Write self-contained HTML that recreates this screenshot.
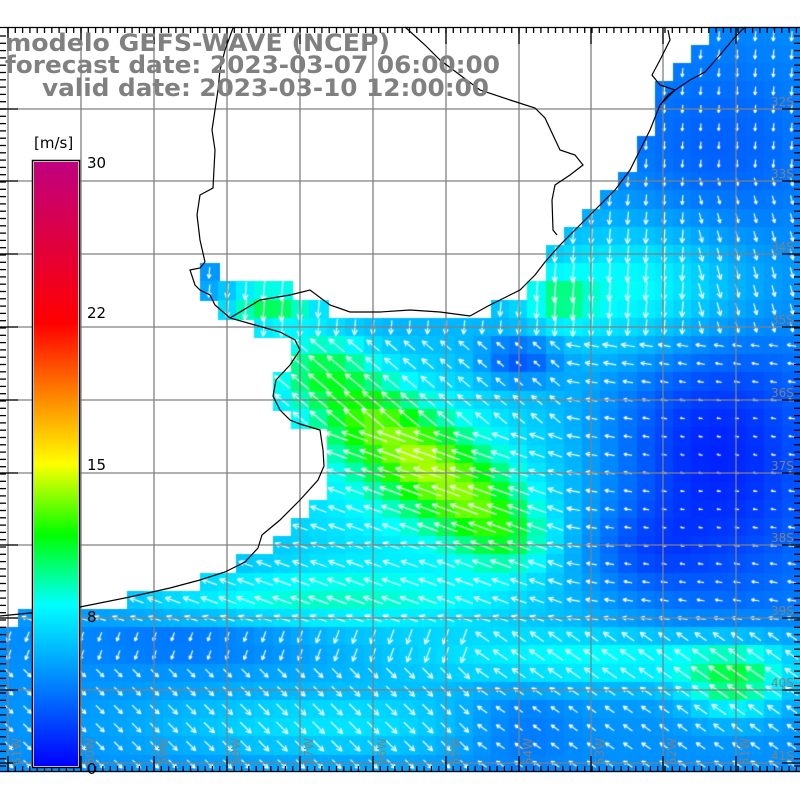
<!DOCTYPE html>
<html><head><meta charset="utf-8"><style>
html,body{margin:0;padding:0;background:#fff;width:800px;height:800px;overflow:hidden}
#c{position:absolute;left:0;top:0}
svg{position:absolute;left:0;top:0}
</style></head><body>
<canvas id="c" width="800" height="800"></canvas>
<svg id="s" width="800" height="800" xmlns="http://www.w3.org/2000/svg">
<defs>
<linearGradient id="cb" x1="0" y1="0" x2="0" y2="1">
<stop offset="0" stop-color="#c0007f"/>
<stop offset="0.267" stop-color="#ff0000"/>
<stop offset="0.383" stop-color="#ff8000"/>
<stop offset="0.5" stop-color="#ffff00"/>
<stop offset="0.617" stop-color="#00ff00"/>
<stop offset="0.733" stop-color="#00ffff"/>
<stop offset="0.867" stop-color="#0080ff"/>
<stop offset="1" stop-color="#0000ff"/>
</linearGradient>
</defs>
<g id="grid" stroke="#808080" stroke-width="1.3" fill="none"></g>
<g id="ticks" stroke="#000" stroke-width="1.3"></g>
<g fill="none" stroke="#000" stroke-width="1.2">
<polyline points="0,616 40,612 80,607 130,597 170,588 200,580 225,572 245,562 258,548 262,535 280,520 300,500 318,480 324,466 323,450 320,430 300,424 290,420 280,410 273,396 276,380 290,365 300,350 295,340 280,332 255,325 230,318 215,305 210,295 200,290 195,285 190,270 200,268 205,262"/>
<polyline points="470,316 488,306 500,300 520,290 535,275 545,262 560,245 575,230 595,210 615,190 630,170 640,150 650,130 660,105 668,95 690,80 705,72 720,55 735,37 745,27"/>
<polyline points="205,262 200,240 197,215 200,195 213,188 215,150 212,130 215,110 218,90 220,70 225,50 233,28"/>
<polyline points="230,318 260,300 290,295 310,290 330,305 350,312 380,312 410,310 440,312 470,316"/>
<polyline points="405,27 425,45 440,60 480,90 510,100 535,108 545,118 560,150 575,155 583,165 570,175 555,185 552,200 553,230 557,235"/>
<polyline points="660,105 675,90 660,85 652,75 660,60 670,40 668,30"/>
</g>
<g font-family="DejaVu Sans, Liberation Sans, sans-serif" font-weight="bold" font-size="24" fill="#808080">
<text x="5" y="51" textLength="385" lengthAdjust="spacingAndGlyphs">modelo GEFS-WAVE (NCEP)</text>
<text x="5" y="73" textLength="495" lengthAdjust="spacingAndGlyphs">forecast date: 2023-03-07 06:00:00</text>
<text x="42" y="96" textLength="447" lengthAdjust="spacingAndGlyphs">valid date: 2023-03-10 12:00:00</text>
</g>
<g id="lat" font-family="DejaVu Sans, sans-serif" font-size="12" fill="#808080"></g>
<g id="lon" font-family="DejaVu Sans, sans-serif" font-size="12" fill="#808080"></g>
<rect x="32.5" y="160.5" width="47" height="607" fill="#fff" stroke="#000" stroke-width="1.5"/>
<rect x="34" y="162" width="44" height="604" fill="url(#cb)"/>
<g font-family="DejaVu Sans, sans-serif" font-size="15" fill="#000">
<text x="34" y="148">[m/s]</text>
<text x="87" y="168">30</text>
<text x="87" y="318">22</text>
<text x="87" y="470">15</text>
<text x="87" y="622">8</text>
<text x="87" y="774">0</text>
</g>
</svg>
<script>
const cv=document.getElementById('c'),ctx=cv.getContext('2d');
ctx.fillStyle='#fff';ctx.fillRect(0,0,800,800);
const land=[[0,27],[709,27],[709,45],[691,45],[691,64],[673,64],[673,82],[655,82],[655,136],[636,136],[636,172],[618,172],[618,190],[600,190],[600,209],[582,209],[582,227],[564,227],[564,245],[545,245],[545,282],[527,282],[527,300],[491,300],[491,318],[327,318],[327,300],[291,300],[291,282],[218,282],[218,264],[200,264],[200,300],[218,300],[218,318],[255,318],[255,336],[291,336],[291,373],[273,373],[273,409],[291,409],[291,427],[327,427],[327,500],[309,500],[309,518],[291,518],[291,537],[273,537],[273,555],[237,555],[237,573],[200,573],[200,591],[127,591],[127,609],[18,609],[18,627],[0,627]];
const lp=new Path2D();lp.moveTo(land[0][0],land[0][1]);for(const p of land)lp.lineTo(p[0],p[1]);lp.closePath();
const blobs=[[320,370,50,40,4.5],[370,420,50,40,4.5],[420,460,50,40,4.8],[470,500,50,40,4.5],[510,540,45,35,3.5],[270,305,45,22,5.5],
[420,480,200,140,3.5],[300,600,200,30,3],[330,725,180,35,2.5],
[640,290,120,70,4],[560,300,30,25,3],
[620,660,200,30,3.5],[735,685,50,35,5],
[710,460,110,140,-3.8],[520,360,40,25,-3.5],[640,550,60,40,-1.5],
[720,150,100,100,-1.5],[200,640,120,22,-1.5],[520,725,60,45,-1.5]];
function spd(x,y){let s=4.5;for(const b of blobs){const dx=(x-b[0])/b[2],dy=(y-b[1])/b[3];s+=b[4]*Math.exp(-(dx*dx+dy*dy));}return Math.max(0.5,s);}
const cs=[[0,[0,0,255]],[4,[0,128,255]],[8,[0,255,255]],[11.5,[0,255,0]],[15,[255,255,0]],[18.5,[255,128,0]],[22,[255,0,0]],[30,[192,0,127]]];
function col(v){for(let i=0;i<cs.length-1;i++){const a=cs[i],b=cs[i+1];if(v<=b[0]){const t=(v-a[0])/(b[0]-a[0]);return 'rgb('+a[1].map((c,k)=>Math.round(c+(b[1][k]-c)*t)).join(',')+')';}}return 'rgb(192,0,127)';}
function dir(x,y){
 if(y<330){return x>700&&y>180?75:95;}
 if(y<620){if(x<560)return y<420?220:200;return 190;}
 if(x>480)return 215;
 if(y<660)return 110;return 45;}
const S=18.2,cells=[];
for(let j=0;j<41;j++)for(let i=0;i<44;i++){
 const x=i*S,y=27+j*S,cx=x+S/2,cy=y+S/2;
 if(y>=772)continue;
 if(ctx.isPointInPath(lp,cx,cy))continue;
 const v=spd(cx,cy);ctx.fillStyle=col(v);
 ctx.fillRect(Math.floor(x),Math.floor(y),Math.ceil(S)+1,Math.min(Math.ceil(S)+1,772-Math.floor(y)));
 cells.push([cx,cy,v]);}
ctx.strokeStyle='#fff';ctx.lineWidth=1.2;
for(const [cx,cy,v] of cells){
 const a=dir(cx,cy)*Math.PI/180,L=Math.max(4,Math.min(30,v*2.4));
 const dx=Math.cos(a),dy=Math.sin(a);
 const x1=cx-dx*L/2,y1=cy-dy*L/2,x2=cx+dx*L/2,y2=cy+dy*L/2;
 ctx.beginPath();ctx.moveTo(x1,y1);ctx.lineTo(x2,y2);
 const h=Math.min(6,L*0.4);
 for(const o of[0.45,-0.45]){ctx.moveTo(x2,y2);ctx.lineTo(x2-h*Math.cos(a+o),y2-h*Math.sin(a+o));}
 ctx.stroke();}
ctx.fillStyle='#fff';ctx.fillRect(0,772,800,28);ctx.fillRect(0,0,800,27);
const ns='http://www.w3.org/2000/svg';
function el(p,t,at,txt){const e=document.createElementNS(ns,t);for(const k in at)e.setAttribute(k,at[k]);if(txt)e.textContent=txt;document.getElementById(p).appendChild(e);}
const vx=[8,81,154,227,300,373,446,519,591,663,736],hy=[109,181,254,327,400,473,545,618,690,763];
for(const x of vx)el('grid','line',{x1:x,y1:27,x2:x,y2:772});
for(const y of hy)el('grid','line',{x1:0,y1:y,x2:800,y2:y});
el('ticks','line',{x1:0,y1:27.5,x2:800,y2:27.5});
el('ticks','line',{x1:0,y1:771.5,x2:800,y2:771.5});
for(let x=8;x<800;x+=7.3){el('ticks','line',{x1:x,y1:27,x2:x,y2:33});el('ticks','line',{x1:x,y1:766,x2:x,y2:772});}
for(const x of vx){el('ticks','line',{x1:x,y1:27,x2:x,y2:44});el('ticks','line',{x1:x,y1:756,x2:x,y2:772});}
for(let y=36;y<772;y+=7.3){el('ticks','line',{x1:0,y1:y,x2:6,y2:y});el('ticks','line',{x1:794,y1:y,x2:800,y2:y});}
for(const y of hy){el('ticks','line',{x1:0,y1:y,x2:18,y2:y});el('ticks','line',{x1:782,y1:y,x2:800,y2:y});}
hy.forEach((y,i)=>el('lat','text',{x:771,y:y-3},(32+i)+'S'));
vx.forEach((x,i)=>{if(i<11)el('lon','text',{x:0,y:0,transform:'translate('+(x+13)+',765) rotate(-90)'},(61-i)+'W');});
</script>
</body></html>
